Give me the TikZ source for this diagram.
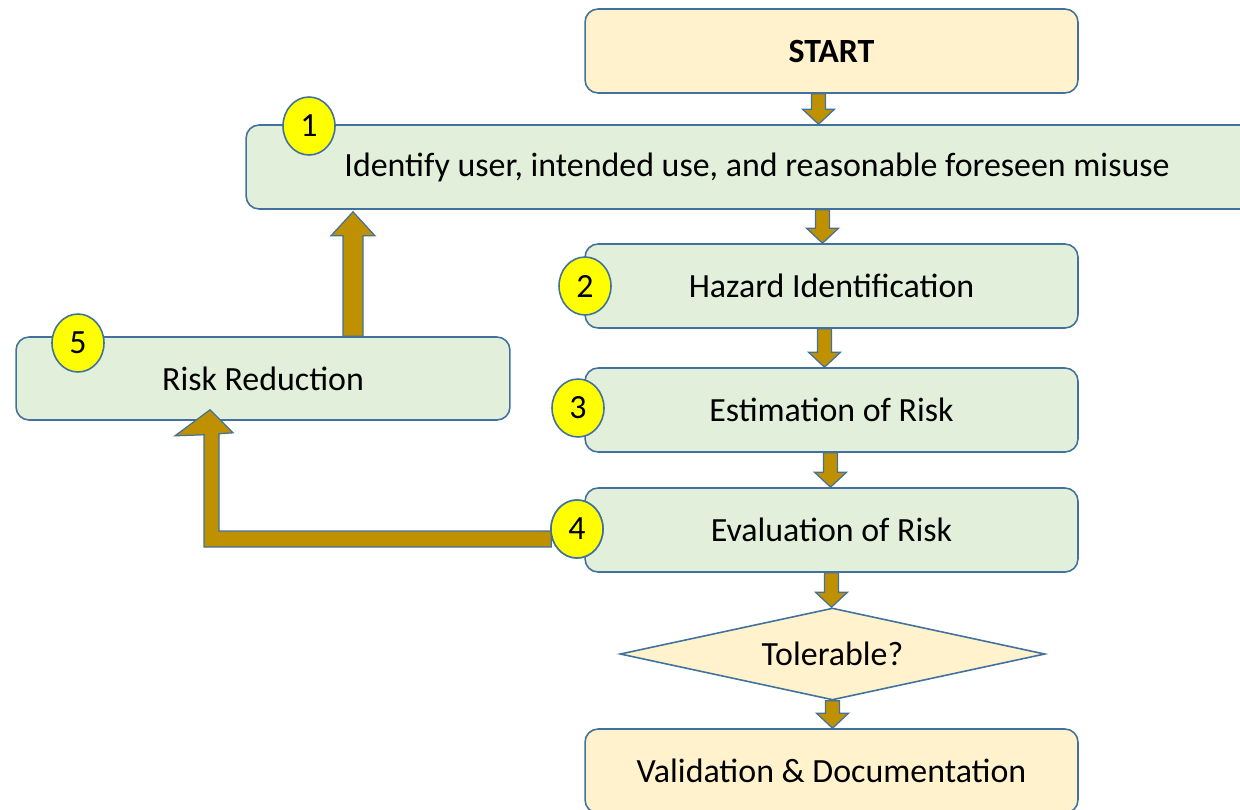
\documentclass[tikz,border=0pt]{standalone}
\usepackage{fontspec}
\setmainfont{Carlito}
\usetikzlibrary{shapes.geometric}
\usetikzlibrary{calc}

\definecolor{boxline}{RGB}{65,113,156}
\definecolor{boxgreen}{RGB}{226,239,218}
\definecolor{boxcream}{RGB}{255,242,204}
\definecolor{arrowgold}{RGB}{191,144,0}
\definecolor{badgeyellow}{RGB}{255,255,0}

% 向下的块箭头: #1 起点, #2 终点, #3 水平偏移
\newcommand{\dnarrow}[3]{%
  \path ($(#1)+(#3,0)$) coordinate (s) (s |- #2) coordinate (t);
  \draw[goldarrow] ($(s)+(-7,0)$) -- ($(s)+(7,0)$) -- ($(t)+(7,-15)$) -- ($(t)+(16,-15)$)
    -- (t) -- ($(t)+(-16,-15)$) -- ($(t)+(-7,-15)$) -- cycle;}

\begin{document}
\begin{tikzpicture}[x=0.02cm, y=-0.02cm,
    stepbox/.style={draw=boxline, line width=0.9pt, fill=boxgreen, rounded corners=0.26cm,
      minimum width=9.86cm, minimum height=1.68cm, font=\fontsize{19.3}{23}\selectfont},
    endbox/.style={stepbox, fill=boxcream},
    badge/.style={ellipse, draw=boxline, line width=0.9pt, fill=badgeyellow, inner sep=0pt,
      minimum width=1.04cm, minimum height=1.16cm, font=\fontsize{19.3}{23}\selectfont},
    goldarrow/.style={draw=boxline, line width=0.7pt, fill=arrowgold, line join=miter}]
    \useasboundingbox (0,0) rectangle (1240,809);
    \clip (0,0) rectangle (1240,809);

    % 流程框
    \node[endbox, font=\bfseries\fontsize{19.3}{23}\selectfont] (start) at (831.5,51) {START};
    \node[stepbox, minimum width=20.44cm] (ident) at (757,167) {Identify user, intended use, and reasonable foreseen misuse};
    \node[stepbox] (hazard) at (831.5,286) {Hazard Identification};
    \node[stepbox] (estim) at (831.5,410) {Estimation of Risk};
    \node[stepbox] (evalr) at (831.5,530) {Evaluation of Risk};
    \node[stepbox, minimum width=9.88cm, minimum height=1.66cm] (reduce) at (263,378.5) {Risk Reduction};
    \node[diamond, aspect=4.6, draw=boxline, line width=0.9pt, fill=boxcream, inner sep=0pt,
      minimum width=8.5cm, minimum height=1.84cm, font=\fontsize{19.3}{23}\selectfont] (tol) at (832.5,654) {Tolerable?};
    \node[endbox] (valid) at (831.5,771) {Validation \& Documentation};

    % 主流程箭头
    \dnarrow{start.south}{ident.north}{-13}
    \dnarrow{ident.south -| hazard.north}{hazard.north}{-9}
    \dnarrow{hazard.south}{estim.north}{-7}
    \dnarrow{estim.south}{evalr.north}{-1}
    \dnarrow{evalr.south}{tol.north}{0}
    \dnarrow{tol.south}{valid.north}{0}

    % 风险降低回路
    \coordinate (u0) at ($(reduce.north)+(90,0)$);
    \path (u0 |- ident.south) coordinate (u1);
    \draw[goldarrow] ($(u0)+(-10,0)$) -- ($(u1)+(-10,26)$) -- ($(u1)+(-22,26)$) -- ($(u1)+(0,2)$)
      -- ($(u1)+(22,26)$) -- ($(u1)+(10,26)$) -- ($(u0)+(10,0)$) -- cycle;

    \node[badge] (n4) at (577,529) {4};
    \coordinate (r0) at (n4.west);
    \coordinate (r1) at ($(reduce.south)+(-53,-11)$);
    \draw[goldarrow] ($(r0)+(1,2)$) -- ($(r1 |- r0)+(9,2)$) -- ($(r1)+(9,24)$) -- ($(r1)+(23,23)$)
      -- (r1) -- ($(r1)+(-35,26)$) -- ($(r1)+(-6,25)$) -- ($(r1 |- r0)+(-6,18)$) -- ($(r0)+(1,18)$) -- cycle;

    % 编号
    \node[badge] at (n4) {4};
    \node[badge] (n1) at (309,126) {1};
    \node[badge] (n2) at (585,286) {2};
    \node[badge] (n3) at (578,408) {3};
    \node[badge] (n5) at (78,343) {5};
\end{tikzpicture}
\end{document}
